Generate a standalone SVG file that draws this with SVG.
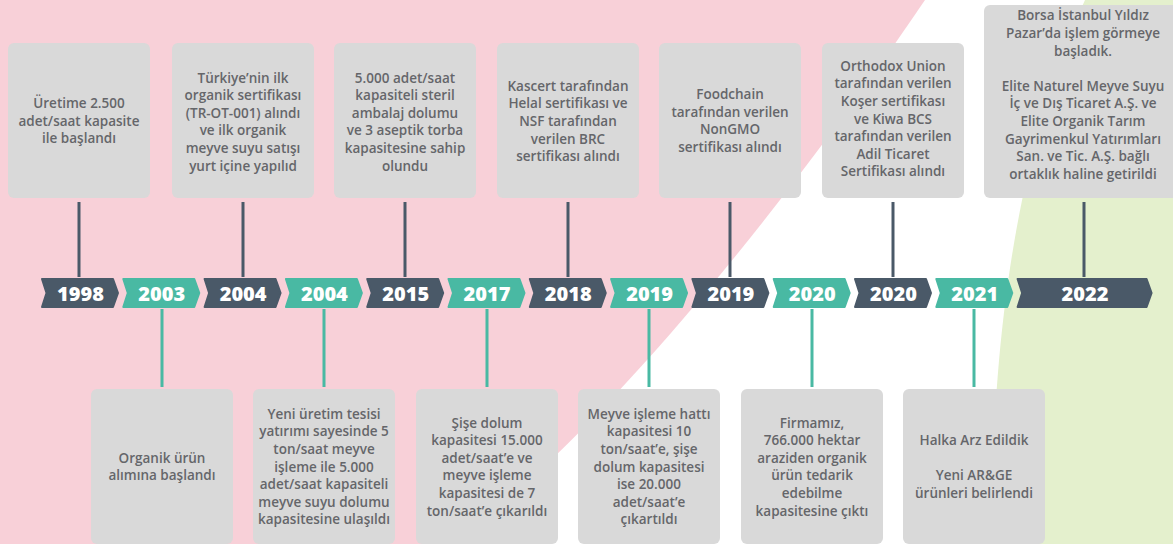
<svg xmlns="http://www.w3.org/2000/svg" xmlns:xlink="http://www.w3.org/1999/xlink" width="1173" height="544" viewBox="0 0 1173 544">
<style>
.box{fill:#d9d9d9}
.t{font-family:"Open Sans","Liberation Sans",sans-serif;font-size:13.5px;font-weight:600;fill:#65666a;text-anchor:middle}
.yr{font-family:"Open Sans","Liberation Sans",sans-serif;font-size:20px;font-weight:800;fill:#ffffff;text-anchor:middle}
.dk{fill:#4a5968;stroke:#4a5968;stroke-width:2;stroke-linejoin:round}
.tl{fill:#49b9a3;stroke:#49b9a3;stroke-width:2;stroke-linejoin:round}
.cd{stroke:#4a5968;stroke-width:3}
.ct{stroke:#49b9a3;stroke-width:3}
</style>
<defs>
<path id="chev" d="M1,0 H72 L77,14 L72,28 H1 L5.5,14 Z"/>
<path id="chevL" d="M1,0 H130 L135,14 L130,28 H1 L5.5,14 Z"/>
</defs>
<g id="background">
<rect x="0" y="0" width="1173" height="544" fill="#ffffff"/>
<path d="M0,0 H925 C830,140 640,400 455,544 H0 Z" fill="#f8d0d8"/>
<path d="M1085,0 C1030,120 990,300 992,544 H1173 V0 Z" fill="#e4f0cd"/>
</g>
<g id="connectors">
<line class="cd" x1="79" y1="202" x2="79" y2="277"/>
<line class="cd" x1="243" y1="202" x2="243" y2="277"/>
<line class="cd" x1="405" y1="202" x2="405" y2="277"/>
<line class="cd" x1="568" y1="202" x2="568" y2="277"/>
<line class="cd" x1="730" y1="202" x2="730" y2="277"/>
<line class="cd" x1="893" y1="202" x2="893" y2="277"/>
<line class="cd" x1="1084" y1="202" x2="1084" y2="277"/>
<line class="ct" x1="162" y1="309" x2="162" y2="387"/>
<line class="ct" x1="324" y1="309" x2="324" y2="387"/>
<line class="ct" x1="487" y1="309" x2="487" y2="387"/>
<line class="ct" x1="649" y1="309" x2="649" y2="387"/>
<line class="ct" x1="812" y1="309" x2="812" y2="387"/>
<line class="ct" x1="974" y1="309" x2="974" y2="387"/>
</g>
<g id="y1998"><use xlink:href="#chev" href="#chev" class="dk" x="41" y="279"/><text class="yr" x="80.5" y="300.5">1998</text></g>
<g id="y2003"><use xlink:href="#chev" href="#chev" class="tl" x="122.3" y="279"/><text class="yr" x="161.8" y="300.5">2003</text></g>
<g id="y2004a"><use xlink:href="#chev" href="#chev" class="dk" x="203.6" y="279"/><text class="yr" x="243.1" y="300.5">2004</text></g>
<g id="y2004b"><use xlink:href="#chev" href="#chev" class="tl" x="284.9" y="279"/><text class="yr" x="324.4" y="300.5">2004</text></g>
<g id="y2015"><use xlink:href="#chev" href="#chev" class="dk" x="366.2" y="279"/><text class="yr" x="405.7" y="300.5">2015</text></g>
<g id="y2017"><use xlink:href="#chev" href="#chev" class="tl" x="447.5" y="279"/><text class="yr" x="487" y="300.5">2017</text></g>
<g id="y2018"><use xlink:href="#chev" href="#chev" class="dk" x="528.8" y="279"/><text class="yr" x="568.3" y="300.5">2018</text></g>
<g id="y2019a"><use xlink:href="#chev" href="#chev" class="tl" x="610.1" y="279"/><text class="yr" x="649.6" y="300.5">2019</text></g>
<g id="y2019b"><use xlink:href="#chev" href="#chev" class="dk" x="691.4" y="279"/><text class="yr" x="730.9" y="300.5">2019</text></g>
<g id="y2020a"><use xlink:href="#chev" href="#chev" class="tl" x="772.7" y="279"/><text class="yr" x="812.2" y="300.5">2020</text></g>
<g id="y2020b"><use xlink:href="#chev" href="#chev" class="dk" x="854" y="279"/><text class="yr" x="893.5" y="300.5">2020</text></g>
<g id="y2021"><use xlink:href="#chev" href="#chev" class="tl" x="935.3" y="279"/><text class="yr" x="974.8" y="300.5">2021</text></g>
<g id="y2022"><use xlink:href="#chevL" href="#chevL" class="dk" x="1016.6" y="279"/><text class="yr" x="1085" y="300.5">2022</text></g>

<g id="n1998"><rect class="box" x="8" y="43" width="142" height="155" rx="6"/>
<text class="t"><tspan x="79" y="108">Üretime 2.500</tspan><tspan x="79" y="125.6">adet/saat kapasite</tspan><tspan x="79" y="143.2">ile başlandı</tspan></text></g>
<g id="n2004a"><rect class="box" x="172" y="43" width="142" height="155" rx="6"/>
<text class="t"><tspan x="243" y="82.5">Türkiye’nin ilk</tspan><tspan x="243" y="100.1">organik sertifikası</tspan><tspan x="243" y="117.7">(TR-OT-001) alındı</tspan><tspan x="243" y="135.3">ve ilk organik</tspan><tspan x="243" y="152.9">meyve suyu satışı</tspan><tspan x="243" y="170.5">yurt içine yapılıd</tspan></text></g>
<g id="n2015"><rect class="box" x="334" y="43" width="142" height="155" rx="6"/>
<text class="t"><tspan x="405" y="82.5">5.000 adet/saat</tspan><tspan x="405" y="100.1">kapasiteli steril</tspan><tspan x="405" y="117.7">ambalaj dolumu</tspan><tspan x="405" y="135.3">ve 3 aseptik torba</tspan><tspan x="405" y="152.9">kapasitesine sahip</tspan><tspan x="405" y="170.5">olundu</tspan></text></g>
<g id="n2018"><rect class="box" x="497" y="43" width="142" height="155" rx="6"/>
<text class="t"><tspan x="568" y="90.8">Kascert tarafından</tspan><tspan x="568" y="108.4">Helal sertifikası ve</tspan><tspan x="568" y="126">NSF tarafından</tspan><tspan x="568" y="143.6">verilen BRC</tspan><tspan x="568" y="161.2">sertifikası alındı</tspan></text></g>
<g id="n2019b"><rect class="box" x="659" y="43" width="142" height="155" rx="6"/>
<text class="t"><tspan x="730" y="99.1">Foodchain</tspan><tspan x="730" y="116.7">tarafından verilen</tspan><tspan x="730" y="134.3">NonGMO</tspan><tspan x="730" y="151.9">sertifikası alındı</tspan></text></g>
<g id="n2020b"><rect class="box" x="822" y="43" width="142" height="155" rx="6"/>
<text class="t"><tspan x="893" y="70.7">Orthodox Union</tspan><tspan x="893" y="88.3">tarafından verilen</tspan><tspan x="893" y="105.9">Koşer sertifikası</tspan><tspan x="893" y="123.5">ve Kiwa BCS</tspan><tspan x="893" y="141.1">tarafından verilen</tspan><tspan x="893" y="158.7">Adil Ticaret</tspan><tspan x="893" y="176.3">Sertifikası alındı</tspan></text></g>
<g id="n2022"><rect class="box" x="984" y="5" width="196" height="193" rx="6"/>
<text class="t"><tspan x="1083" y="20.3">Borsa İstanbul Yıldız</tspan><tspan x="1083" y="37.9">Pazar’da işlem görmeye</tspan><tspan x="1083" y="55.5">başladık.</tspan><tspan x="1083" y="90.7">Elite Naturel Meyve Suyu</tspan><tspan x="1083" y="108.3">İç ve Dış Ticaret A.Ş. ve</tspan><tspan x="1083" y="125.9">Elite Organik Tarım</tspan><tspan x="1083" y="143.5">Gayrimenkul Yatırımları</tspan><tspan x="1083" y="161.1">San. ve Tic. A.Ş. bağlı</tspan><tspan x="1083" y="178.7">ortaklık haline getirildi</tspan></text></g>

<g id="n2003"><rect class="box" x="91" y="389" width="142" height="155" rx="6"/>
<text class="t"><tspan x="162" y="462.7">Organik ürün</tspan><tspan x="162" y="480.3">alımına başlandı</tspan></text></g>
<g id="n2004b"><rect class="box" x="253" y="389" width="142" height="155" rx="6"/>
<text class="t"><tspan x="324" y="418.7">Yeni üretim tesisi</tspan><tspan x="324" y="436.3">yatırımı sayesinde 5</tspan><tspan x="324" y="453.9">ton/saat meyve</tspan><tspan x="324" y="471.5">işleme ile 5.000</tspan><tspan x="324" y="489.1">adet/saat kapasiteli</tspan><tspan x="324" y="506.7">meyve suyu dolumu</tspan><tspan x="324" y="524.3">kapasitesine ulaşıldı</tspan></text></g>
<g id="n2017"><rect class="box" x="416" y="389" width="142" height="155" rx="6"/>
<text class="t"><tspan x="487" y="427.5">Şişe dolum</tspan><tspan x="487" y="445.1">kapasitesi 15.000</tspan><tspan x="487" y="462.7">adet/saat’e ve</tspan><tspan x="487" y="480.3">meyve işleme</tspan><tspan x="487" y="497.9">kapasitesi de 7</tspan><tspan x="487" y="515.5">ton/saat’e çıkarıldı</tspan></text></g>
<g id="n2019a"><rect class="box" x="578" y="389" width="142" height="155" rx="6"/>
<text class="t"><tspan x="649" y="418.7">Meyve işleme hattı</tspan><tspan x="649" y="436.3">kapasitesi 10</tspan><tspan x="649" y="453.9">ton/saat’e, şişe</tspan><tspan x="649" y="471.5">dolum kapasitesi</tspan><tspan x="649" y="489.1">ise 20.000</tspan><tspan x="649" y="506.7">adet/saat’e</tspan><tspan x="649" y="524.3">çıkartıldı</tspan></text></g>
<g id="n2020a"><rect class="box" x="741" y="389" width="142" height="155" rx="6"/>
<text class="t"><tspan x="812" y="427.5">Firmamız,</tspan><tspan x="812" y="445.1">766.000 hektar</tspan><tspan x="812" y="462.7">araziden organik</tspan><tspan x="812" y="480.3">ürün tedarik</tspan><tspan x="812" y="497.9">edebilme</tspan><tspan x="812" y="515.5">kapasitesine çıktı</tspan></text></g>
<g id="n2021"><rect class="box" x="903" y="389" width="142" height="155" rx="6"/>
<text class="t"><tspan x="974" y="445.1">Halka Arz Edildik</tspan><tspan x="974" y="480.3">Yeni AR&amp;GE</tspan><tspan x="974" y="497.9">ürünleri belirlendi</tspan></text></g>
</svg>
